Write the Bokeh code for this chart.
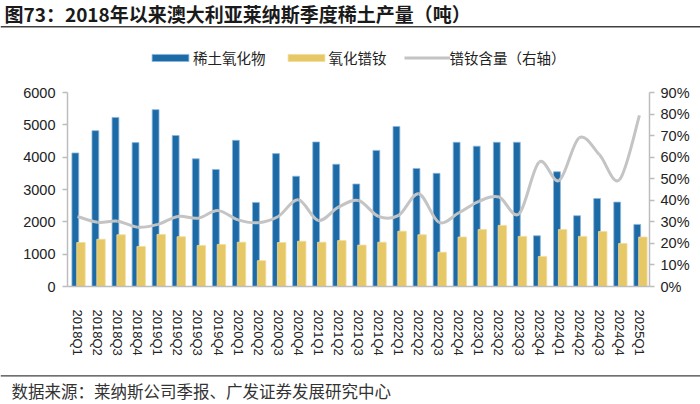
from bokeh.plotting import figure
from bokeh.layouts import column
from bokeh.models import (ColumnDataSource, Range1d, LinearAxis, FixedTicker, NumeralTickFormatter,
                          Legend, LegendItem)
from bokeh.core.properties import value
from bokeh.transform import dodge
from bokeh.embed import file_html
from bokeh.resources import INLINE

quarters = ["2018Q1", "2018Q2", "2018Q3", "2018Q4", "2019Q1", "2019Q2", "2019Q3", "2019Q4",
            "2020Q1", "2020Q2", "2020Q3", "2020Q4", "2021Q1", "2021Q2", "2021Q3", "2021Q4",
            "2022Q1", "2022Q2", "2022Q3", "2022Q4", "2023Q1", "2023Q2", "2023Q3", "2023Q4",
            "2024Q1", "2024Q2", "2024Q3", "2024Q4", "2025Q1"]
rare_earth_oxide = [4130, 4820, 5230, 4450, 5470, 4670, 3950, 3620,
                    4520, 2600, 4110, 3410, 4470, 3780, 3170, 4210,
                    4950, 3650, 3500, 4460, 4340, 4460, 4460, 1570,
                    3550, 2190, 2720, 2610, 1920]
ndpr_oxide = [1360, 1460, 1600, 1240, 1610, 1540, 1270, 1300,
              1370, 800, 1360, 1400, 1370, 1420, 1280, 1370,
              1710, 1600, 1060, 1530, 1760, 1890, 1550, 930,
              1760, 1550, 1700, 1330, 1530]
ndpr_share_pct = [32.5, 29.8, 30.3, 27.5, 28.8, 32.5, 31.7, 35.2,
                  30.9, 29.6, 32.5, 40.2, 30.6, 36.8, 39.9, 32.5,
                  33.0, 43.0, 29.8, 34.2, 39.5, 41.5, 33.7, 57.7,
                  49.2, 69.0, 61.2, 49.5, 79.4]
left_ticks = [0, 1000, 2000, 3000, 4000, 5000, 6000]
right_ticks_pct = [0, 10, 20, 30, 40, 50, 60, 70, 80, 90]
series_names = ["稀土氧化物", "氧化镨钕", "镨钕含量（右轴）"]
title_text = "图73：2018年以来澳大利亚莱纳斯季度稀土产量（吨）"
source_text = "数据来源：莱纳斯公司季报、广发证券发展研究中心"

BLUE = "#1c6aa6"
YELLOW = "#e6c866"
GRAY = "#c4c4c4"
AXIS = "#bdbdbd"
CJK = "Noto Sans CJK SC"
LATIN = "Liberation Sans"
W = 700

xs = list(range(len(quarters)))
pct = [v / 100 for v in ndpr_share_pct]
src = ColumnDataSource(dict(x=xs, q=quarters, reo=rare_earth_oxide, ndpr=ndpr_oxide, pct=pct))

# smooth bezier segments through the read share values
n = len(xs)
bez = dict(x0=[], y0=[], x1=[], y1=[], cx0=[], cy0=[], cx1=[], cy1=[])
for i in range(n - 1):
    a = max(i - 1, 0)
    d = min(i + 2, n - 1)
    bez["x0"].append(xs[i]); bez["y0"].append(pct[i])
    bez["x1"].append(xs[i + 1]); bez["y1"].append(pct[i + 1])
    bez["cx0"].append(xs[i] + (xs[i + 1] - xs[a]) / 6)
    bez["cy0"].append(pct[i] + (pct[i + 1] - pct[a]) / 6)
    bez["cx1"].append(xs[i + 1] - (xs[d] - xs[i]) / 6)
    bez["cy1"].append(pct[i + 1] - (pct[d] - pct[i]) / 6)
bez_src = ColumnDataSource(bez)


def bare(height, y0, y1):
    f = figure(width=W, height=height, output_backend="svg", toolbar_location=None,
               x_range=Range1d(0, W), y_range=Range1d(y0, y1),
               x_axis_location=None, y_axis_location=None, min_border=0, frame_align=False)
    f.outline_line_color = None
    f.xgrid.visible = False
    f.ygrid.visible = False
    f.border_fill_color = "white"
    return f


# ---- header: title, rule, legend ----
top = bare(80, 80, 0)
top.text(x=[4], y=[13], text=[title_text], text_font=value(CJK), text_font_style="bold",
         text_font_size="19px", text_baseline="middle", text_color="#1a1a1a")
top.segment(x0=[0], y0=[26.3], x1=[W], y1=[26.3], line_color="#404040", line_width=1.6)
# legend swatches: same styling as the chart marks, their data falls outside this header's range
top.extra_y_ranges = {"off": Range1d(1e7, 2e7)}
d_blue = top.vbar(x="x", top="reo", width=0.3, source=src, y_range_name="off",
                  fill_color=BLUE, line_color="#8db6dc", line_width=0.8)
d_yel = top.vbar(x="x", top="ndpr", width=0.3, source=src, y_range_name="off",
                 fill_color=YELLOW, line_color="#f1dc9c", line_width=0.8)
d_line = top.line(x="x", y="pct", source=src, y_range_name="off",
                  line_color=GRAY, line_width=3)
legend = Legend(items=[LegendItem(label=series_names[0], renderers=[d_blue]),
                       LegendItem(label=series_names[1], renderers=[d_yel]),
                       LegendItem(label=series_names[2], renderers=[d_line])],
                orientation="horizontal", location=(147, 12), glyph_width=46, glyph_height=9,
                label_standoff=0, spacing=17, padding=0, margin=0,
                border_line_alpha=0, background_fill_alpha=0,
                label_text_font=CJK, label_text_font_size="14.5px", label_text_color="#222222")
top.add_layout(legend, "center")

# ---- main chart ----
p = figure(width=W, height=285, output_backend="svg", toolbar_location=None,
           x_range=Range1d(-0.5, n - 0.5), y_range=Range1d(0, 6000), frame_align=False,
           min_border_left=67, min_border_right=51, min_border_top=12, min_border_bottom=79)
p.extra_y_ranges = {"pct": Range1d(0, 0.9)}
p.outline_line_color = None
p.xgrid.visible = False
p.ygrid.visible = False
p.border_fill_color = "white"

p.vbar(x=dodge("x", -0.11, range=p.x_range), top="reo", width=0.34, source=src,
       fill_color=BLUE, line_color="#8db6dc", line_width=0.8)
p.vbar(x=dodge("x", 0.17, range=p.x_range), top="ndpr", width=0.42, source=src,
       fill_color=YELLOW, line_color="#f1dc9c", line_width=0.8)
p.bezier(x0="x0", y0="y0", x1="x1", y1="y1", cx0="cx0", cy0="cy0", cx1="cx1", cy1="cy1",
         source=bez_src, y_range_name="pct", line_color=GRAY, line_width=3)

right = LinearAxis(y_range_name="pct",
                   ticker=FixedTicker(ticks=[v / 100 for v in right_ticks_pct]),
                   formatter=NumeralTickFormatter(format="0%"))
p.add_layout(right, "right")
p.yaxis[0].ticker = FixedTicker(ticks=left_ticks)

for ax in [p.yaxis[0], right]:
    ax.axis_line_color = AXIS
    ax.axis_line_width = 1.5
    ax.major_tick_line_color = AXIS
    ax.major_tick_line_width = 1.5
    ax.major_tick_out = 5
    ax.major_tick_in = 0
    ax.minor_tick_line_color = None
    ax.major_label_text_font = LATIN
    ax.major_label_text_font_size = "14.5px"
    ax.major_label_text_color = "#222222"
    ax.major_label_standoff = 7
right.major_label_standoff = 6

xa = p.xaxis[0]
xa.ticker = FixedTicker(ticks=xs)
xa.major_label_overrides = {i: q for i, q in zip(xs, quarters)}
xa.major_label_orientation = "vertical"
xa.axis_line_color = AXIS
xa.axis_line_width = 1.5
xa.major_tick_line_color = None
xa.minor_tick_line_color = None
xa.major_tick_out = 0
xa.major_label_text_font = LATIN
xa.major_label_text_font_size = "13px"
xa.major_label_text_color = "#222222"
xa.major_label_standoff = 23

# ---- footer: rule and source ----
bot = bare(39, 404, 365)
bot.segment(x0=[0], y0=[375.3], x1=[W], y1=[375.3], line_color="#404040", line_width=1.3)
bot.text(x=[11], y=[390], text=[source_text], text_font=value(CJK),
         text_font_size="16.5px", text_baseline="middle", text_color="#333333")

layout = column(top, p, bot, spacing=0)
open("out.html", "w").write(file_html(layout, INLINE))
